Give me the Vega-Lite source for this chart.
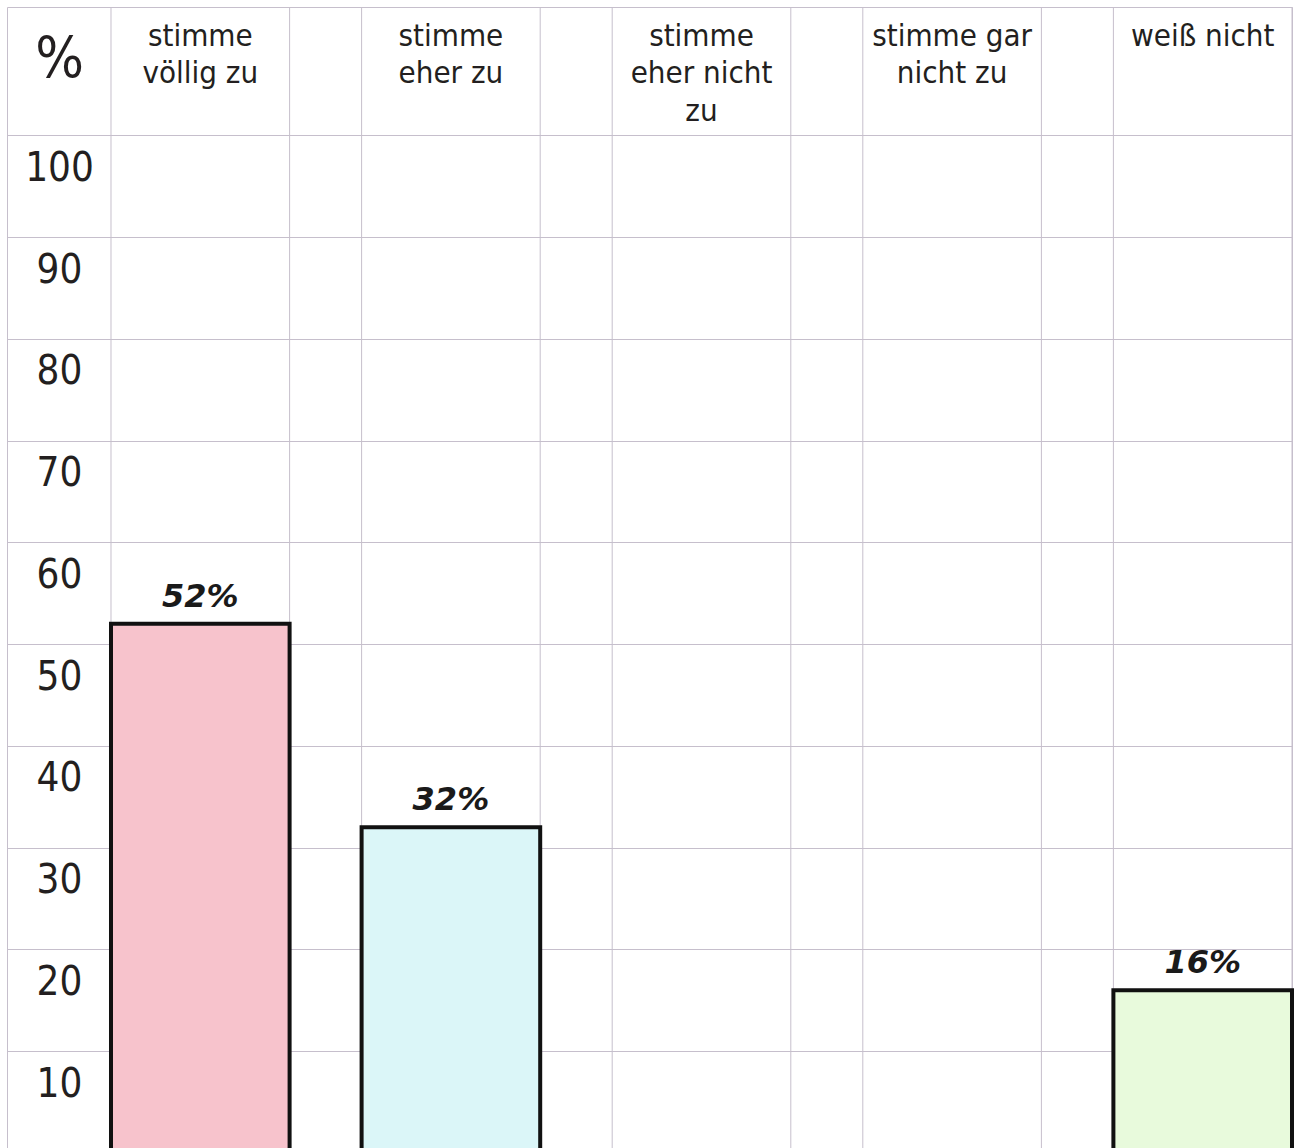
{
  "$schema": "https://vega.github.io/schema/vega-lite/v6.json",
  "width": 1285,
  "height": 1146,
  "autosize": {"type": "none"},
  "padding": {"left": 7, "top": 7, "right": 3, "bottom": 0},
  "background": "white",
  "config": {
    "font": "DejaVu Sans Condensed",
    "view": {"stroke": "#c6bfcc", "strokeWidth": 1}
  },
  "data": {
    "values": [
      {"answer": "stimme\nvöllig zu", "percent": 52, "label": "52%"},
      {"answer": "stimme\neher zu", "percent": 32, "label": "32%"},
      {"answer": "stimme\neher nicht\nzu", "percent": null, "label": null},
      {"answer": "stimme gar\nnicht zu", "percent": null, "label": null},
      {"answer": "weiß nicht", "percent": 16, "label": "16%"}
    ]
  },
  "layer": [
    {
      "mark": {"type": "rule", "color": "#c6bfcc", "strokeWidth": 1},
      "encoding": {
        "x": {
          "field": "answer",
          "type": "nominal",
          "bandPosition": 0,
          "title": null,
          "scale": {
            "type": "band",
            "domain": ["stimme\nvöllig zu", "stimme\neher zu", "stimme\neher nicht\nzu", "stimme gar\nnicht zu", "weiß nicht"],
            "paddingInner": 0.2873,
            "paddingOuter": 0.2075,
            "align": 1
          },
          "axis": {
            "orient": "top",
            "domain": false,
            "ticks": false,
            "tickSize": 0,
            "grid": false,
            "bandPosition": 0.5,
            "labelExpr": "split(datum.value, '\\n')",
            "labelAngle": 0,
            "labelAlign": "center",
            "labelBaseline": "top",
            "labelPadding": -14,
            "labelFontSize": 31,
            "labelLineHeight": 37.5,
            "labelLimit": 0,
            "labelColor": "#231f20",
            "labelFont": "DejaVu Sans Condensed",
            "title": null
          }
        }
      }
    },
    {
      "mark": {"type": "rule", "color": "#c6bfcc", "strokeWidth": 1},
      "encoding": {
        "x": {"field": "answer", "type": "nominal", "bandPosition": 1, "title": null}
      }
    },
    {
      "mark": {"type": "bar", "stroke": "#111111", "strokeWidth": 4},
      "encoding": {
        "x": {"field": "answer", "type": "nominal", "title": null},
        "y": {
          "field": "percent",
          "type": "quantitative",
          "title": "%",
          "scale": {"domain": [0, 112.6], "nice": false, "zero": true},
          "axis": {
            "values": [10, 20, 30, 40, 50, 60, 70, 80, 90, 100],
            "grid": true,
            "gridColor": "#c6bfcc",
            "gridWidth": 1,
            "domain": false,
            "ticks": false,
            "tickSize": 0,
            "labelPadding": -52,
            "labelAlign": "center",
            "labelBaseline": "middle",
            "labelOffset": 33,
            "labelFontSize": 40,
            "labelFont": "DejaVu Sans Condensed",
            "labelColor": "#231f20",
            "labelOverlap": false,
            "labelFlush": false,
            "titleAngle": 0,
            "titleX": 52,
            "titleY": 53,
            "titleAlign": "center",
            "titleBaseline": "middle",
            "titleFontSize": 57,
            "titleFontWeight": "normal",
            "titleFont": "DejaVu Sans Condensed",
            "titleColor": "#231f20"
          }
        },
        "color": {
          "field": "answer",
          "type": "nominal",
          "scale": {
            "domain": ["stimme\nvöllig zu", "stimme\neher zu", "weiß nicht"],
            "range": ["#f7c3cc", "#dbf6f8", "#e8fadc"]
          },
          "legend": null
        }
      }
    },
    {
      "mark": {
        "type": "text",
        "font": "DejaVu Sans",
        "fontStyle": "italic",
        "fontWeight": "bold",
        "fontSize": 32,
        "baseline": "bottom",
        "dy": -10,
        "color": "#1a1a1a"
      },
      "encoding": {
        "x": {"field": "answer", "type": "nominal", "title": null},
        "y": {"field": "percent", "type": "quantitative", "title": "%"},
        "text": {"field": "label", "type": "nominal"}
      }
    }
  ]
}
